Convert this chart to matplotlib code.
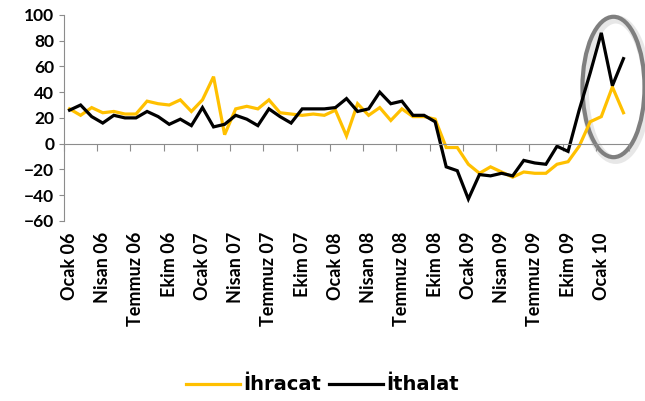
import numpy as np
import matplotlib
matplotlib.use('Agg')
import matplotlib.pyplot as plt
from matplotlib.patches import Ellipse

# monthly data, Ocak 06 .. Mart 10
ihracat = [27, 22, 28, 24, 25, 23, 23, 33, 31, 30, 34, 25, 34, 52, 7, 27, 29,
           27, 34, 24, 23, 22, 23, 22, 26, 6, 31, 22, 28, 18, 27, 21, 21, 19,
           -3, -3, -16, -23, -18, -22, -26, -22, -23, -23, -16, -14, -2, 17, 21, 44, 24]
ithalat = [26, 30, 21, 16, 22, 20, 20, 25, 21, 15, 19, 14, 28, 13, 15, 22, 19,
           14, 27, 21, 16, 27, 27, 27, 28, 35, 25, 27, 40, 31, 33, 22, 22, 17,
           -18, -21, -43, -24, -25, -23, -25, -13, -15, -16, -2, -6, 26, 55, 86, 45, 66]
months = ['Ocak', 'Nisan', 'Temmuz', 'Ekim']
years = ['06', '07', '08', '09', '10']
tick_labels = [f'{m} {y}' for y in years for m in months][:17]

plt.rcParams['font.family'] = ['Lato', 'DejaVu Sans']
plt.rcParams['font.weight'] = 'bold'

fig = plt.figure(figsize=(6.45, 4.01), dpi=100)
ax = fig.add_axes([0.0992, 0.449, 0.876, 0.514])

x = np.arange(len(ihracat))
ax.plot(x, ihracat, color='#FFC000', lw=2.3, label='İhracat', solid_joinstyle='miter')
ax.plot(x, ithalat, color='black', lw=2.3, label='İthalat', solid_joinstyle='miter')

ax.set_xlim(-0.5, len(x) - 0.5)
ax.set_ylim(-60, 100)
ax.set_yticks(np.arange(-60, 101, 20))

axis_gray = '#8c8c8c'
for s in ['top', 'right']:
    ax.spines[s].set_visible(False)
ax.spines['left'].set_color(axis_gray)
ax.spines['bottom'].set_color(axis_gray)
ax.spines['bottom'].set_position(('data', 0))
ax.set_xticks(np.arange(-0.5, len(x), 3))
ax.tick_params(axis='x', labelbottom=False, length=5, color=axis_gray, direction='out')
ax.tick_params(axis='y', labelsize=12.5, length=3.5, color=axis_gray, pad=3.5)

sec = ax.secondary_xaxis('bottom')
sec.set_xticks(np.arange(0, len(x), 3), tick_labels, rotation=90, fontsize=13)
sec.tick_params(length=0, pad=8)
sec.spines['bottom'].set_visible(False)

# highlight ellipse
shadow = Ellipse((49.3, 42), 5.6, 109, fill=False, ec='#d0d0d0', lw=6, alpha=0.5, clip_on=False)
ax.add_patch(shadow)
ell = Ellipse((49.1, 44), 5.6, 109, fill=False, ec='#7f7f7f', lw=3, clip_on=False)
ax.add_patch(ell)

leg = ax.legend(loc='center', ncol=2, frameon=False,
                prop={'family': 'DejaVu Sans', 'weight': 'bold', 'size': 14},
                handlelength=2.8, columnspacing=0.4, handletextpad=0.15)
leg.set_bbox_to_anchor((0.5, 0.04), transform=fig.transFigure)

plt.savefig('out.png', dpi=100)
